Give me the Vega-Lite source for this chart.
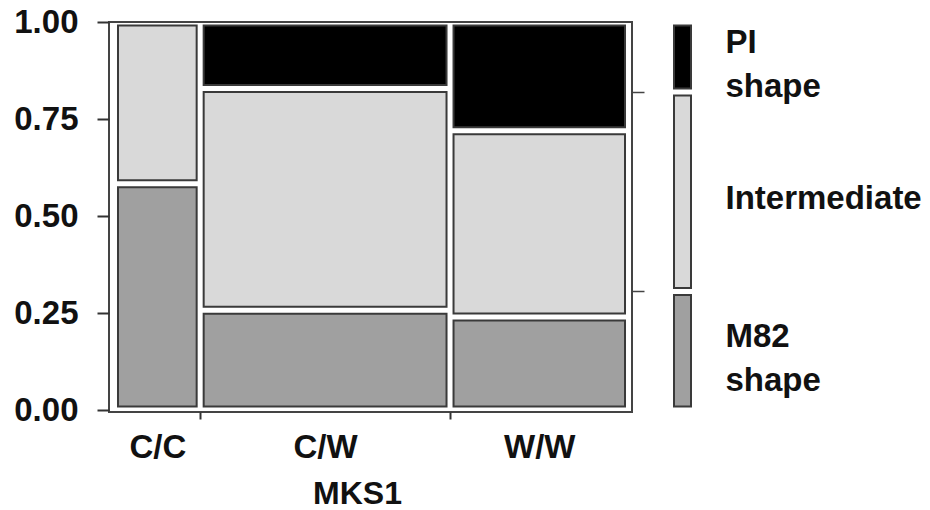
{
  "$schema": "https://vega.github.io/schema/vega-lite/v6.json",
  "padding": {"left": 12, "top": 5, "right": 0, "bottom": 0},
  "background": "white",
  "datasets": {
    "fruit": [
      {"MKS1": "C/C", "shape": "M82 shape", "n": 7},
      {"MKS1": "C/C", "shape": "Intermediate", "n": 5},
      {"MKS1": "C/W", "shape": "M82 shape", "n": 9},
      {"MKS1": "C/W", "shape": "Intermediate", "n": 20},
      {"MKS1": "C/W", "shape": "PI shape", "n": 6},
      {"MKS1": "W/W", "shape": "M82 shape", "n": 6},
      {"MKS1": "W/W", "shape": "Intermediate", "n": 12},
      {"MKS1": "W/W", "shape": "PI shape", "n": 7}
    ]
  },
  "hconcat": [
    {
      "width": 523,
      "height": 390,
      "view": {"stroke": "#444444", "strokeWidth": 2},
      "data": {"name": "fruit"},
      "transform": [
        {"calculate": "indexof(['M82 shape', 'Intermediate', 'PI shape'], datum.shape)", "as": "shape_rank"},
        {"stack": "n", "groupby": [], "sort": [{"field": "MKS1", "order": "ascending"}], "offset": "normalize", "as": ["cx0", "cx1"]},
        {"window": [{"op": "min", "field": "cx0", "as": "x0"}, {"op": "max", "field": "cx1", "as": "x1"}], "groupby": ["MKS1"], "frame": [null, null]},
        {"stack": "n", "groupby": ["MKS1"], "sort": [{"field": "shape_rank", "order": "ascending"}], "offset": "normalize", "as": ["y0", "y1"]}
      ],
      "layer": [
        {
          "mark": {"type": "rect", "stroke": "#3a3a3a", "strokeWidth": 2, "xOffset": 3.5, "x2Offset": -3.5, "yOffset": -3.5, "y2Offset": 3.5},
          "encoding": {
            "x": {
              "field": "x0", "type": "quantitative",
              "scale": {"domain": [-0.0107, 1.0068], "nice": false, "zero": false},
              "axis": {
                "orient": "bottom",
                "values": [0.0833, 0.1667, 0.4097, 0.6528, 0.8264],
                "labelExpr": "datum.value < 0.1 ? 'C/C' : (datum.value > 0.35 && datum.value < 0.5) ? 'C/W' : datum.value > 0.8 ? 'W/W' : ''",
                "tickOpacity": {"condition": {"test": "(datum.value > 0.15 && datum.value < 0.18) || (datum.value > 0.64 && datum.value < 0.66)", "value": 1}, "value": 0},
                "tickSize": 7,
                "tickWidth": 2,
                "tickColor": "#333333",
                "domain": false,
                "grid": false,
                "labelPadding": 12,
                "labelOverlap": false,
                "labelFlush": false,
                "labelBound": false,
                "title": "MKS1",
                "titleX": 248,
                "titleAlign": "center",
                "titleFontSize": 32,
                "titlePadding": 14
              }
            },
            "x2": {"field": "x1"},
            "y": {
              "field": "y0", "type": "quantitative",
              "scale": {"domain": [-0.005, 1], "nice": false, "zero": false},
              "axis": {
                "orient": "left",
                "values": [0, 0.25, 0.5, 0.75, 1],
                "format": ".2f",
                "tickSize": 12,
                "tickWidth": 2,
                "tickColor": "#333333",
                "domain": false,
                "grid": false,
                "labelPadding": 19,
                "title": null
              }
            },
            "y2": {"field": "y1"},
            "color": {
              "field": "shape", "type": "nominal",
              "scale": {"domain": ["PI shape", "Intermediate", "M82 shape"], "range": ["#000000", "#d9d9d9", "#a0a0a0"]},
              "legend": null
            }
          }
        },
        {
          "mark": {"type": "tick", "opacity": 0},
          "encoding": {
            "y": {
              "field": "y0", "type": "quantitative",
              "axis": {
                "orient": "right",
                "values": [0.3056, 0.8194],
                "labels": false,
                "tickSize": 12,
                "tickWidth": 1.5,
                "tickColor": "#444444",
                "domain": false,
                "grid": false,
                "title": null
              }
            }
          }
        }
      ],
      "resolve": {"axis": {"y": "independent"}}
    },
    {
      "width": 17,
      "height": 390,
      "view": {"stroke": null},
      "data": {"name": "fruit"},
      "transform": [
        {"aggregate": [{"op": "sum", "field": "n", "as": "n"}], "groupby": ["shape"]},
        {"calculate": "indexof(['M82 shape', 'Intermediate', 'PI shape'], datum.shape)", "as": "shape_rank"},
        {"stack": "n", "groupby": [], "sort": [{"field": "shape_rank", "order": "ascending"}], "offset": "normalize", "as": ["y0", "y1"]},
        {"calculate": "(datum.y0 + datum.y1) / 2", "as": "ymid"}
      ],
      "encoding": {
        "y": {"type": "quantitative", "scale": {"domain": [-0.005, 1], "nice": false, "zero": false}, "axis": null}
      },
      "layer": [
        {
          "mark": {"type": "rect", "stroke": "#3a3a3a", "strokeWidth": 2, "yOffset": -3.5, "y2Offset": 3.5},
          "encoding": {
            "y": {"field": "y0", "type": "quantitative"},
            "y2": {"field": "y1"},
            "color": {
              "field": "shape", "type": "nominal",
              "scale": {"domain": ["PI shape", "Intermediate", "M82 shape"], "range": ["#000000", "#d9d9d9", "#a0a0a0"]},
              "legend": null
            }
          }
        },
        {
          "transform": [{"filter": "datum.shape != 'Intermediate'"}],
          "mark": {"type": "text", "align": "left", "baseline": "middle", "dx": 43, "dy": -14, "lineBreak": " ", "lineHeight": 44, "fontSize": 33, "fontWeight": "bold", "font": "Liberation Sans", "color": "#111111"},
          "encoding": {
            "y": {"field": "ymid", "type": "quantitative"},
            "text": {"field": "shape"}
          }
        },
        {
          "transform": [{"filter": "datum.shape == 'Intermediate'"}],
          "mark": {"type": "text", "align": "left", "baseline": "middle", "dx": 43, "dy": 7, "fontSize": 33, "fontWeight": "bold", "font": "Liberation Sans", "color": "#111111"},
          "encoding": {
            "y": {"field": "ymid", "type": "quantitative"},
            "text": {"field": "shape"}
          }
        }
      ]
    }
  ],
  "spacing": 27,
  "config": {
    "axis": {
      "labelFont": "Liberation Sans",
      "labelFontSize": 33,
      "labelFontWeight": "bold",
      "labelColor": "#111111",
      "titleFont": "Liberation Sans",
      "titleFontSize": 33,
      "titleFontWeight": "bold",
      "titleColor": "#111111"
    }
  }
}
